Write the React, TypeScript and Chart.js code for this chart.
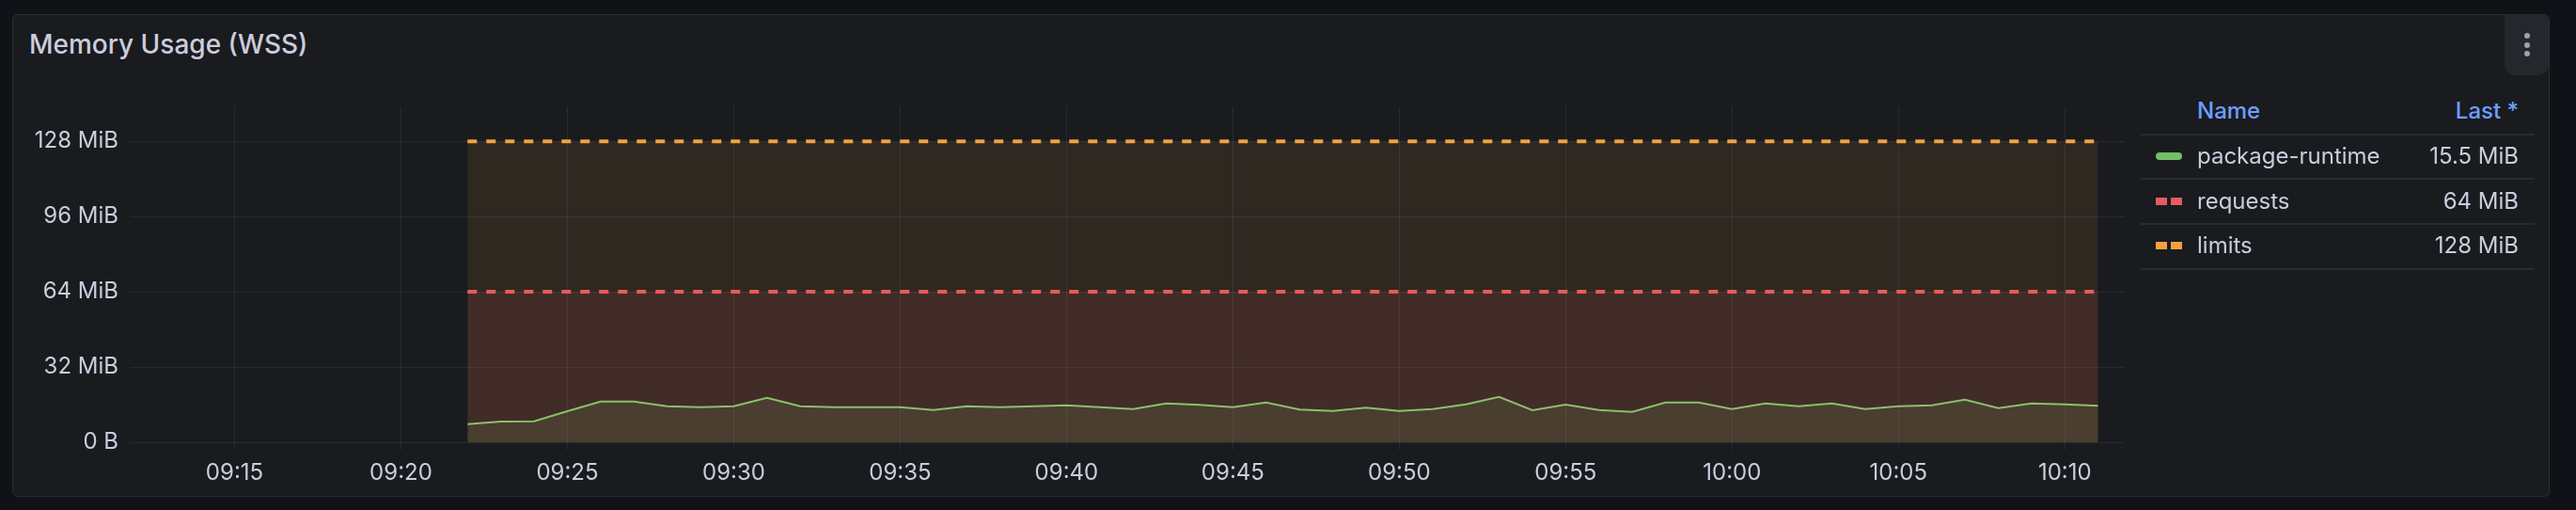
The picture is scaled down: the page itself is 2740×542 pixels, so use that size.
import React, { useEffect, useRef } from "react";
import Chart from "chart.js/auto";

// ---- data ----
const timeLabels = [
  "09:22", "09:23", "09:24", "09:25", "09:26", "09:27", "09:28", "09:29", "09:30", "09:31",
  "09:32", "09:33", "09:34", "09:35", "09:36", "09:37", "09:38", "09:39", "09:40", "09:41",
  "09:42", "09:43", "09:44", "09:45", "09:46", "09:47", "09:48", "09:49", "09:50", "09:51",
  "09:52", "09:53", "09:54", "09:55", "09:56", "09:57", "09:58", "09:59", "10:00", "10:01",
  "10:02", "10:03", "10:04", "10:05", "10:06", "10:07", "10:08", "10:09", "10:10", "10:11",
];
const runtimeMiB = [
  7.7, 8.8, 8.9, 13.2, 17.3, 17.3, 15.3, 14.9, 15.3, 18.9,
  15.3, 14.9, 14.9, 14.9, 13.7, 15.3, 14.9, 15.3, 15.7, 14.9,
  14.1, 16.5, 15.9, 14.9, 16.9, 13.9, 13.3, 14.7, 13.3, 14.1,
  16.1, 19.3, 13.6, 16.0, 13.7, 12.9, 16.9, 16.9, 14.1, 16.5,
  15.3, 16.5, 14.1, 15.3, 15.7, 18.1, 14.5, 16.5, 16.1, 15.5,
];
const requestsMiB = [
  64, 64, 64, 64, 64, 64, 64, 64, 64, 64,
  64, 64, 64, 64, 64, 64, 64, 64, 64, 64,
  64, 64, 64, 64, 64, 64, 64, 64, 64, 64,
  64, 64, 64, 64, 64, 64, 64, 64, 64, 64,
  64, 64, 64, 64, 64, 64, 64, 64, 64, 64,
];
const limitsMiB = [
  128, 128, 128, 128, 128, 128, 128, 128, 128, 128,
  128, 128, 128, 128, 128, 128, 128, 128, 128, 128,
  128, 128, 128, 128, 128, 128, 128, 128, 128, 128,
  128, 128, 128, 128, 128, 128, 128, 128, 128, 128,
  128, 128, 128, 128, 128, 128, 128, 128, 128, 128,
];
const yTicksMiB = [0, 32, 64, 96, 128];
const xTickLabels = [
  "09:15", "09:20", "09:25", "09:30", "09:35", "09:40",
  "09:45", "09:50", "09:55", "10:00", "10:05", "10:10",
];
const xWindow = ["09:11:51", "10:11:48"];
const yMaxMiB = 142.9;

const seriesNames = ["package-runtime", "requests", "limits"];
const lineColors = ["#8cbf6c", "#e35d5d", "#f3a13f"];
const legendColors = ["#73bf69", "#e35d5d", "#f3a13f"];
const fillColors = [
  "rgba(140,190,108,0.12)",
  "rgba(227,93,93,0.10)",
  "rgba(243,161,63,0.10)",
];

const FONT = "Inter, 'Noto Sans', sans-serif";
const TEXT = "#ccccdc";

function toMin(s: string): number {
  const [h, m, sec] = s.split(":").map(Number);
  return h * 60 + m + (sec || 0) / 60 - 540;
}
function fmtMin(v: number): string {
  const t = Math.round(v) + 540;
  const h = Math.floor(t / 60);
  const m = t % 60;
  return `${String(h).padStart(2, "0")}:${String(m).padStart(2, "0")}`;
}
function fmtMiB(v: number): string {
  return v === 0 ? "0 B" : `${v} MiB`;
}

const series = [runtimeMiB, requestsMiB, limitsMiB];

export default function App() {
  const ref = useRef<HTMLCanvasElement | null>(null);

  useEffect(() => {
    document.body.style.margin = "0";
    const canvas = ref.current;
    if (!canvas) return;
    const datasets = series.map((vals, i) => ({
      label: seriesNames[i],
      data: vals.map((v, k) => ({ x: toMin(timeLabels[k]), y: v })),
      borderColor: lineColors[i],
      backgroundColor: fillColors[i],
      borderWidth: i === 0 ? 2 : 4,
      borderDash: i === 0 ? [] : [10, 10],
      pointRadius: 0,
      tension: 0,
      fill: "origin",
    }));
    const chart = new Chart(canvas, {
      type: "line",
      data: { datasets },
      options: {
        animation: false,
        responsive: false,
        devicePixelRatio: 1,
        layout: { padding: { top: 33, right: 40, left: 0, bottom: 0 } },
        plugins: {
          legend: { display: false },
          title: { display: false },
          tooltip: { enabled: false },
        },
        scales: {
          x: {
            type: "linear",
            min: toMin(xWindow[0]),
            max: toMin(xWindow[1]),
            afterBuildTicks: (s: any) => {
              s.ticks = xTickLabels.map((l) => ({ value: toMin(l) }));
            },
            afterFit: (s: any) => {
              s.height = 60;
            },
            border: { display: false },
            grid: {
              color: "rgba(204,204,220,0.09)",
              lineWidth: 1,
              drawTicks: true,
              tickLength: 8,
              tickColor: "rgba(204,204,220,0.09)",
            },
            ticks: {
              autoSkip: false,
              maxRotation: 0,
              padding: 10,
              color: TEXT,
              font: { family: FONT, size: 24 },
              callback: (v: any) => fmtMin(Number(v)),
            },
          },
          y: {
            type: "linear",
            min: 0,
            max: yMaxMiB,
            afterBuildTicks: (s: any) => {
              s.ticks = yTicksMiB.map((v) => ({ value: v }));
            },
            afterFit: (s: any) => {
              s.width = 138;
            },
            border: { display: false },
            grid: {
              color: "rgba(204,204,220,0.09)",
              lineWidth: 1,
              drawTicks: false,
            },
            ticks: {
              padding: 12,
              color: TEXT,
              font: { family: FONT, size: 24 },
              callback: (v: any) => fmtMiB(Number(v)),
            },
          },
        },
      },
    } as any);
    return () => chart.destroy();
  }, []);

  const rowCenters = [166, 213.5, 261];
  const sepYs = [142, 189, 237, 285];

  return (
    <div
      style={{
        position: "fixed",
        left: 0,
        top: 0,
        width: 2740,
        height: 542,
        background: "#111217",
        overflow: "hidden",
        fontFamily: FONT,
      }}
    >
      <div
        style={{
          position: "absolute",
          left: 13,
          top: 15,
          width: 2699,
          height: 513,
          boxSizing: "border-box",
          background: "#191b1f",
          border: "1px solid #2c2d33",
          borderRadius: 6,
        }}
      />
      <div
        style={{
          position: "absolute",
          left: 31,
          top: 33,
          font: `500 28px/28px ${FONT}`,
          color: TEXT,
          whiteSpace: "nowrap",
        }}
      >
        Memory Usage (WSS)
      </div>
      {/* menu button */}
      <div
        style={{
          position: "absolute",
          left: 2664,
          top: 16,
          width: 47,
          height: 64,
          background: "#26272c",
          borderRadius: "0 6px 12px 12px",
        }}
      >
        {[22, 32, 41].map((y) => (
          <div
            key={y}
            style={{
              position: "absolute",
              left: 21,
              top: y - 3,
              width: 6,
              height: 6,
              borderRadius: 3,
              background: "#9fa0a8",
            }}
          />
        ))}
      </div>
      <canvas
        ref={ref}
        width={2300}
        height={450}
        style={{ position: "absolute", left: 0, top: 80, width: 2300, height: 450 }}
      />
      {/* legend table */}
      <div
        style={{
          position: "absolute",
          left: 2337,
          top: 106,
          font: `500 24px/24px ${FONT}`,
          color: "#6e9fff",
        }}
      >
        Name
      </div>
      <div
        style={{
          position: "absolute",
          right: 2740 - 2679,
          top: 106,
          font: `500 24px/24px ${FONT}`,
          color: "#6e9fff",
          whiteSpace: "nowrap",
        }}
      >
        Last *
      </div>
      {sepYs.map((y) => (
        <div
          key={y}
          style={{
            position: "absolute",
            left: 2277,
            top: y,
            width: 419,
            height: 2,
            background: "#2a2b31",
          }}
        />
      ))}
      {seriesNames.map((name, i) => {
        const cy = rowCenters[i];
        const vals = series[i];
        const last = vals[vals.length - 1];
        return (
          <React.Fragment key={name}>
            {i === 0 ? (
              <div
                style={{
                  position: "absolute",
                  left: 2293,
                  top: cy - 4,
                  width: 28,
                  height: 8,
                  borderRadius: 4,
                  background: legendColors[i],
                }}
              />
            ) : (
              <>
                <div
                  style={{
                    position: "absolute",
                    left: 2293,
                    top: cy - 4,
                    width: 12,
                    height: 8,
                    background: legendColors[i],
                  }}
                />
                <div
                  style={{
                    position: "absolute",
                    left: 2309,
                    top: cy - 4,
                    width: 12,
                    height: 8,
                    background: legendColors[i],
                  }}
                />
              </>
            )}
            <div
              style={{
                position: "absolute",
                left: 2337,
                top: cy - 12,
                font: `400 24px/24px ${FONT}`,
                color: TEXT,
                whiteSpace: "nowrap",
              }}
            >
              {name}
            </div>
            <div
              style={{
                position: "absolute",
                right: 2740 - 2679,
                top: cy - 12,
                font: `400 24px/24px ${FONT}`,
                color: TEXT,
                whiteSpace: "nowrap",
              }}
            >
              {fmtMiB(last)}
            </div>
          </React.Fragment>
        );
      })}
    </div>
  );
}
